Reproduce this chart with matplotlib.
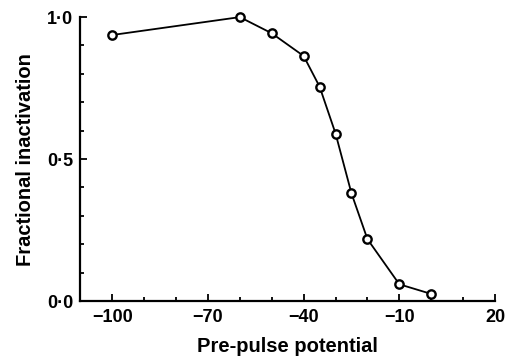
import numpy as np
import matplotlib.pyplot as plt
from matplotlib.ticker import MultipleLocator, FixedLocator

# pre-pulse potential (mV) and fractional inactivation
potential = [-100, -60, -50, -40, -35, -30, -25, -20, -10, 0]
inactivation = [0.937, 1.0, 0.943, 0.863, 0.755, 0.59, 0.379, 0.218, 0.059, 0.025]

x_ticks = [-100, -70, -40, -10, 20]
x_tick_labels = ['\u2212100', '\u221270', '\u221240', '\u221210', '20']
y_ticks = [0.0, 0.5, 1.0]
y_tick_labels = ['0\u00b70', '0\u00b75', '1\u00b70']

plt.rcParams['font.family'] = ['Liberation Sans', 'DejaVu Sans']
plt.rcParams['font.weight'] = 'bold'

fig = plt.figure(figsize=(5.09, 3.64), dpi=100)
ax = fig.add_axes([0.158, 0.173, 0.8145, 0.78])

ax.plot(potential, inactivation, '-', color='black', lw=1.3,
        marker='o', ms=6, mfc='white', mec='black', mew=1.7, clip_on=False)

ax.set_xlim(-110, 20)
ax.set_ylim(0, 1.0)

ax.spines['top'].set_visible(False)
ax.spines['right'].set_visible(False)
ax.spines['left'].set_linewidth(1.6)
ax.spines['bottom'].set_linewidth(1.6)

ax.xaxis.set_major_locator(FixedLocator(x_ticks))
ax.xaxis.set_minor_locator(MultipleLocator(10))
ax.set_xticklabels(x_tick_labels)
ax.yaxis.set_major_locator(FixedLocator(y_ticks))
ax.yaxis.set_minor_locator(MultipleLocator(0.1))
ax.set_yticklabels(y_tick_labels)

ax.tick_params(axis='both', which='both', direction='in', width=1.3, labelsize=13)
ax.tick_params(axis='x', pad=6)
ax.tick_params(axis='y', pad=5)
ax.tick_params(axis='both', which='major', length=5)
ax.tick_params(axis='both', which='minor', length=3)

ax.set_xlabel('Pre-pulse potential', fontsize=14.5, fontweight='bold', labelpad=8)
ax.set_ylabel('Fractional inactivation', fontsize=14.5, fontweight='bold', labelpad=9)

plt.savefig('out.png', dpi=100)
